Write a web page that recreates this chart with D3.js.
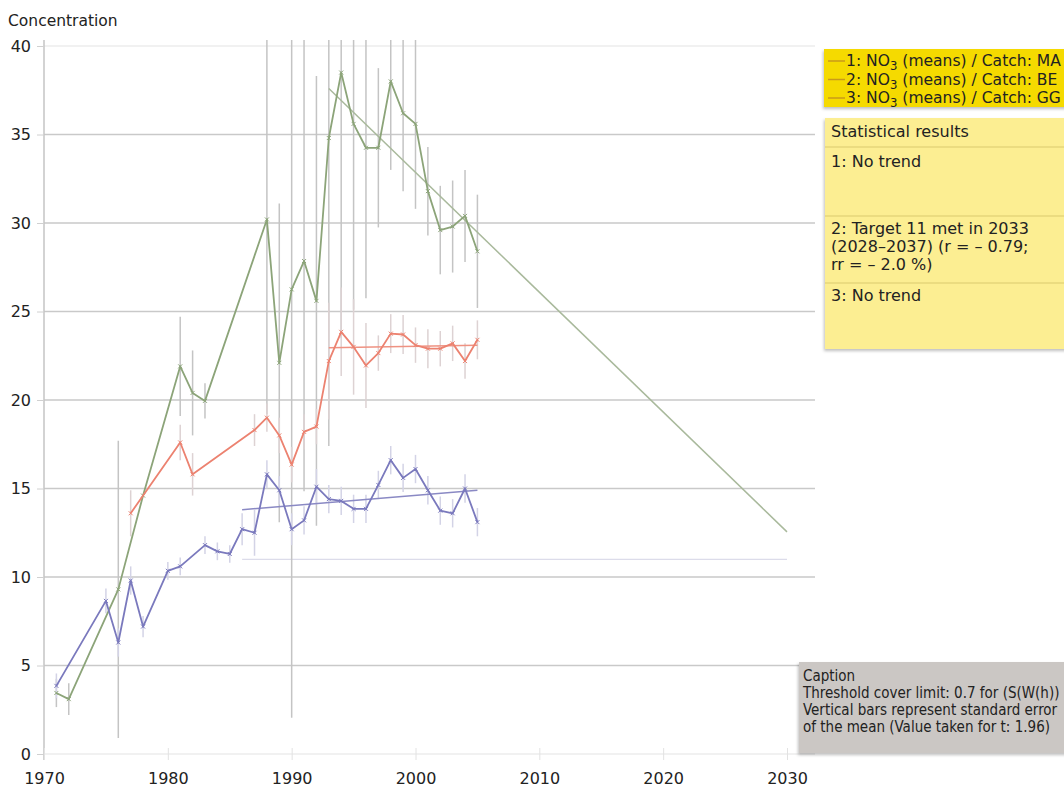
<!DOCTYPE html>
<html>
<head>
<meta charset="utf-8">
<script src="https://cdn.jsdelivr.net/npm/d3@7"></script>
<style>
  body { margin: 0; background: #fff; }
  svg { display: block; font-family: "DejaVu Sans", Verdana, sans-serif; }
</style>
</head>
<body>
<div id="chart"></div>
<script>
// series 1 : catch MA (blue)
var yearsMA = [1971,1975,1976,1977,1978,1980,1981,1983,1984,1985,1986,1987,1988,1989,1990,1991,1992,1993,1994,1995,1996,1997,1998,1999,2000,2001,2002,2003,2004,2005];
var valuesMA = [3.85,8.65,6.3,9.8,7.2,10.35,10.6,11.8,11.45,11.3,12.7,12.5,15.8,14.9,12.7,13.2,15.1,14.4,14.3,13.85,13.85,15.2,16.6,15.6,16.1,14.9,13.75,13.6,15.0,13.1];
var errMA = [0.7,0.7,0.8,0.8,0.6,0.5,0.5,0.5,0.5,0.5,0.9,1.3,0.8,0.8,0.9,0.8,1.0,0.8,0.8,0.8,0.8,0.8,0.8,0.8,0.8,0.8,0.8,0.8,0.8,0.8];

// series 2 : catch BE (green)
var yearsBE = [1971,1972,1976,1978,1981,1982,1983,1988,1989,1990,1991,1992,1993,1994,1995,1996,1997,1998,1999,2000,2001,2002,2003,2004,2005];
var valuesBE = [3.45,3.1,9.3,14.6,21.9,20.4,19.95,30.2,22.1,26.25,27.85,25.6,34.8,38.5,35.6,34.25,34.25,38.0,36.2,35.6,31.8,29.6,29.8,30.4,28.4];
var errBE = [0.8,0.9,8.4,0,2.8,2.4,1.0,11,9,24.2,13,12.7,17.4,15,10.5,8.5,4.5,5,4.4,4.8,2.5,2.5,2.6,2.6,3.2];

// series 3 : catch GG (red)
var yearsGG = [1977,1981,1982,1987,1988,1989,1990,1991,1992,1993,1994,1995,1996,1997,1998,1999,2000,2001,2002,2003,2004,2005];
var valuesGG = [13.6,17.6,15.8,18.3,19.0,18.0,16.35,18.2,18.5,22.2,23.85,23.0,21.95,22.65,23.75,23.7,23.1,22.9,22.9,23.2,22.2,23.4];
var errGG = [1.3,1.0,1.2,0.9,0.8,1.0,1.0,1.0,1.0,3.3,2.5,2.7,2.4,1.0,1.1,1.1,1.0,1.1,1.0,1.0,1.0,1.1];

// trend lines [year, value]
var trendMA = [[1986, 13.8], [2005, 14.9]];
var trendBE = [[1993, 37.6], [2030, 12.55]];
var trendGG = [[1993, 22.95], [2005, 23.1]];
var targetLine = [[1986, 11], [2030, 11]];

var yTicks = [0, 5, 10, 15, 20, 25, 30, 35, 40];
var xTicks = [1970, 1980, 1990, 2000, 2010, 2020, 2030];

var legendLabels = ["1: NO", "2: NO", "3: NO"];
var legendCatch = [" (means) / Catch: MA", " (means) / Catch: BE", " (means) / Catch: GG"];
var statRows = [
  ["1: No trend"],
  ["2: Target 11 met in 2033", "(2028\u20132037) (r = \u2013 0.79;", "rr = \u2013 2.0 %)"],
  ["3: No trend"]
];
var captionLines = ["Caption", "Threshold cover limit: 0.7 for (S(W(h))", "Vertical bars represent standard error", "of the mean (Value taken for t: 1.96)"];

var width = 1064, height = 791;

var svg = d3.select("#chart").append("svg")
  .attr("width", width)
  .attr("height", height);

var x = d3.scaleLinear().domain([1970, 2030]).range([44, 787]);
var y = d3.scaleLinear().domain([0, 40]).range([754, 46]);

svg.append("defs").append("clipPath").attr("id", "plotclip")
  .append("rect").attr("x", 30).attr("y", 40).attr("width", 780).attr("height", 725);

//gridlines
svg.selectAll(".grid")
  .data(yTicks)
  .enter().append("line")
  .attr("x1", 44).attr("x2", 815)
  .attr("y1", function(d) { return y(d); })
  .attr("y2", function(d) { return y(d); })
  .attr("stroke", function(d) { return (d === 0 || d === 40) ? "#ececec" : "#c9c9c9"; })
  .attr("stroke-width", function(d) { return (d === 0 || d === 40) ? 1.5 : 1.6; });

//y axis
var yAxis = d3.axisLeft(y).tickValues(yTicks).tickSize(7).tickPadding(6);
var gy = svg.append("g").attr("transform", "translate(44,0)").call(yAxis);
gy.select(".domain").attr("stroke", "#c4c4c4").attr("stroke-width", 1.5)
  .attr("d", "M0,40V760");
gy.selectAll(".tick line").attr("stroke", "#d0d0d0");
gy.selectAll(".tick text").attr("font-size", 16).attr("fill", "#222")
  .attr("font-family", "DejaVu Sans, Verdana, sans-serif");

//x axis
var xAxis = d3.axisBottom(x).tickValues(xTicks).tickFormat(d3.format("d")).tickSize(12).tickPadding(13);
var gx = svg.append("g").attr("transform", "translate(0,748)").call(xAxis);
gx.select(".domain").remove();
gx.selectAll(".tick line").attr("stroke", "#e2e2e2");
gx.selectAll(".tick text").attr("font-size", 16).attr("fill", "#222")
  .attr("font-family", "DejaVu Sans, Verdana, sans-serif");

svg.append("text")
  .attr("x", 8).attr("y", 26)
  .attr("font-size", 15.5).attr("fill", "#222")
  .text("Concentration");

var series = [
  {years: yearsBE, values: valuesBE, err: errBE, color: "#8ca479", bar: "#c4c4c4", trend: trendBE, trendColor: "#a9b99c"},
  {years: yearsGG, values: valuesGG, err: errGG, color: "#ec8270", bar: "#ddd2d3", trend: trendGG, trendColor: "#ef9282"},
  {years: yearsMA, values: valuesMA, err: errMA, color: "#7a79bd", bar: "#d3d3e6", trend: trendMA, trendColor: "#8a89c4"}
];

var plot = svg.append("g").attr("clip-path", "url(#plotclip)");

var line = d3.line()
  .x(function(d) { return x(d[0]); })
  .y(function(d) { return y(d[1]); });

//target line
plot.append("path")
  .attr("d", line(targetLine))
  .attr("fill", "none")
  .attr("stroke", "#dcdcea")
  .attr("stroke-width", 1.2);

//error bars first
series.forEach(function(s) {
  var pts = s.years.map(function(yr, i) { return [yr, s.values[i], s.err[i]]; });
  plot.selectAll(null)
    .data(pts.filter(function(d) { return d[2] > 0; }))
    .enter().append("line")
    .attr("x1", function(d) { return x(d[0]); })
    .attr("x2", function(d) { return x(d[0]); })
    .attr("y1", function(d) { return y(d[1] + d[2]); })
    .attr("y2", function(d) { return y(d[1] - d[2]); })
    .attr("stroke", s.bar)
    .attr("stroke-width", 1.5);
});

//trend lines and series
series.forEach(function(s) {
  var pts = s.years.map(function(yr, i) { return [yr, s.values[i]]; });
  plot.append("path")
    .attr("d", line(s.trend))
    .attr("fill", "none")
    .attr("stroke", s.trendColor)
    .attr("stroke-width", 1.5);
  plot.append("path")
    .attr("d", line(pts))
    .attr("fill", "none")
    .attr("stroke", s.color)
    .attr("stroke-width", 1.8)
    .attr("stroke-linejoin", "round");
  plot.selectAll(null)
    .data(pts)
    .enter().append("path")
    .attr("d", function(d) {
      var cx = x(d[0]), cy = y(d[1]);
      return "M" + (cx - 2) + "," + (cy - 2) + "L" + (cx + 2) + "," + (cy + 2) +
        "M" + (cx - 2) + "," + (cy + 2) + "L" + (cx + 2) + "," + (cy - 2);
    })
    .attr("stroke", s.color)
    .attr("stroke-width", 1);
});

// shrink a group of texts so the widest one fits maxW
function fitTexts(sel, maxW) {
  var w = d3.max(sel.nodes(), function(n) { return n.getComputedTextLength(); });
  if (w > maxW) {
    var fs = parseFloat(sel.attr("font-size"));
    sel.attr("font-size", (fs * maxW / w).toFixed(2));
  }
}

//legend box
var shadow = svg.append("defs").append("filter").attr("id", "shadow")
  .attr("x", "-5%").attr("y", "-5%").attr("width", "115%").attr("height", "120%");
shadow.append("feDropShadow").attr("dx", -1).attr("dy", 2).attr("stdDeviation", 1.5)
  .attr("flood-color", "#000").attr("flood-opacity", 0.25);

var legend = svg.append("g");
legend.append("rect")
  .attr("x", 824).attr("y", 49).attr("width", 250).attr("height", 58)
  .attr("fill", "#f5da00").attr("filter", "url(#shadow)");
legendLabels.forEach(function(lab, i) {
  var by = 66 + i * 18.5;
  legend.append("line")
    .attr("x1", 828).attr("x2", 845)
    .attr("y1", by - 5).attr("y2", by - 5)
    .attr("stroke", "#c99a1a").attr("stroke-width", 1.5);
  var t = legend.append("text").attr("class", "leg").attr("x", 846).attr("y", by)
    .attr("font-size", 16).attr("fill", "#222");
  t.append("tspan").text(lab);
  t.append("tspan").attr("dy", 4).attr("font-size", "0.75em").text("3");
  t.append("tspan").attr("dy", -4).text(legendCatch[i]);
});
fitTexts(legend.selectAll("text.leg"), 215);

//statistical results box
var stats = svg.append("g");
stats.append("rect")
  .attr("x", 825).attr("y", 118).attr("width", 250).attr("height", 231)
  .attr("fill", "#fcee92").attr("filter", "url(#shadow)");
stats.append("text").attr("x", 831).attr("y", 137)
  .attr("font-size", 16).attr("fill", "#222").text("Statistical results");
var sepY = [147, 216, 283];
var rowY = [167, 234, 301];
sepY.forEach(function(sy) {
  stats.append("line").attr("x1", 825).attr("x2", 1064)
    .attr("y1", sy).attr("y2", sy)
    .attr("stroke", "#e6d67a").attr("stroke-width", 1.5);
});
statRows.forEach(function(rows, i) {
  rows.forEach(function(r, j) {
    stats.append("text").attr("x", 831).attr("y", rowY[i] + j * 18)
      .attr("font-size", 16).attr("fill", "#222").text(r);
  });
});

//caption box
var caption = svg.append("g");
caption.append("rect")
  .attr("x", 799).attr("y", 662).attr("width", 270).attr("height", 91)
  .attr("fill", "#cbc7c4").attr("filter", "url(#shadow)");
captionLines.forEach(function(c, i) {
  caption.append("text").attr("class", "cap").attr("x", 803).attr("y", 681 + i * 17)
    .attr("font-family", "DejaVu Sans Condensed, DejaVu Sans, sans-serif")
    .attr("font-size", 15)
    .attr("fill", "#222").text(c);
});
fitTexts(caption.selectAll("text.cap"), 257);
</script>
</body>
</html>
